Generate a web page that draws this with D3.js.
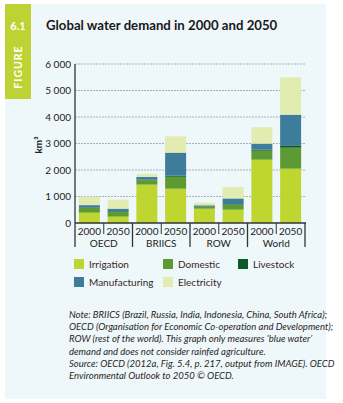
<!DOCTYPE html>
<html>
<head>
<meta charset="utf-8">
<script src="https://cdn.jsdelivr.net/npm/d3@7"></script>
<style>
  body { margin: 0; background: #fff; }
  svg { display: block; font-family: Lato, "Open Sans", sans-serif; }
</style>
</head>
<body>
<svg id="chart"></svg>
<script>
let width = 343,
  height = 403;

// Data
const regions = ["OECD", "BRIICS", "ROW", "World"];
const years = ["2000", "2050"];
const sectors = ["Irrigation", "Domestic", "Livestock", "Manufacturing", "Electricity"];
const sectorColors = ["#bfd630", "#5e9a33", "#0b5a2a", "#3d7d9b", "#e2ebb0"];

// values in km3, order: OECD 2000, OECD 2050, BRIICS 2000, BRIICS 2050, ROW 2000, ROW 2050, World 2000, World 2050
const irrigation = [390, 240, 1450, 1295, 540, 503, 2390, 2050];
const domestic = [176, 176, 165, 450, 63, 190, 340, 792];
const livestock = [20, 25, 20, 40, 15, 20, 38, 88];
const manufacturing = [88, 100, 100, 870, 50, 214, 226, 1157];
const electricity = [320, 340, 115, 615, 100, 428, 616, 1410];
const yTicks = [0, 1000, 2000, 3000, 4000, 5000, 6000];

const series = [irrigation, domestic, livestock, manufacturing, electricity];

let rows = [];
regions.forEach((r, i) => {
  years.forEach((y, j) => {
    let k = i * 2 + j;
    let row = { key: r + " " + y, region: r, year: y };
    sectors.forEach((s, si) => (row[s] = series[si][k]));
    rows.push(row);
  });
});

let svg = d3.select("#chart").attr("width", width).attr("height", height);

// Panel background
svg.append("rect")
  .attr("x", 5).attr("y", 4)
  .attr("width", 321).attr("height", 395)
  .attr("fill", "#eef7f9");

// Figure tab
svg.append("rect")
  .attr("x", 5).attr("y", 4)
  .attr("width", 26).attr("height", 95)
  .attr("fill", "#bdd333");

svg.append("text")
  .attr("x", 18).attr("y", 30)
  .attr("text-anchor", "middle")
  .attr("fill", "#fff")
  .style("font-weight", "bold")
  .style("font-size", "11px")
  .text("6.1");

svg.append("text")
  .attr("transform", "translate(22,67) rotate(-90)")
  .attr("text-anchor", "middle")
  .attr("fill", "#fff")
  .style("font-weight", "bold")
  .style("font-size", "10.5px")
  .style("letter-spacing", "1px")
  .text("FIGURE");

// Title
svg.append("text")
  .attr("x", 46).attr("y", 30)
  .attr("fill", "#1a1a1a")
  .style("font-weight", "bold")
  .style("font-size", "13.2px")
  .text("Global water demand in 2000 and 2050");

// Scales
let x = d3.scaleBand()
  .domain(rows.map((d) => d.key))
  .range([75, 305])
  .paddingInner(0.27)
  .paddingOuter(0.135);

let y = d3.scaleLinear().domain([0, 6000]).range([223, 64]);

let color = d3.scaleOrdinal(sectors, sectorColors);

// Gridlines
svg.append("g")
  .selectAll("line")
  .data(yTicks.filter((t) => t > 0))
  .enter()
  .append("line")
  .attr("x1", 75).attr("x2", 305)
  .attr("y1", (d) => y(d)).attr("y2", (d) => y(d))
  .attr("stroke", "#aab0b3")
  .attr("stroke-width", 1)
  .attr("stroke-dasharray", "2,1");

// Stacked bars
let stack = d3.stack().keys(sectors)(rows);

svg.append("g")
  .selectAll("g")
  .data(stack)
  .enter()
  .append("g")
  .attr("fill", (d) => color(d.key))
  .selectAll("rect")
  .data((d) => d)
  .enter()
  .append("rect")
  .attr("x", (d) => x(d.data.key))
  .attr("width", x.bandwidth())
  .attr("y", (d) => y(d[1]))
  .attr("height", (d) => y(d[0]) - y(d[1]));

// Y axis
let fmt = (d) => d3.format(",")(d).replace(",", " ");
let yAxis = svg.append("g")
  .attr("transform", "translate(75,0)")
  .call(d3.axisLeft(y).tickValues(yTicks).tickSize(0).tickPadding(4).tickFormat(fmt));
yAxis.select(".domain").remove();
yAxis.selectAll("text")
  .style("font-family", "Lato, sans-serif")
  .style("font-size", "10px")
  .attr("fill", "#222");

svg.append("line")
  .attr("x1", 75).attr("x2", 75)
  .attr("y1", 64).attr("y2", 247)
  .attr("stroke", "#333").attr("stroke-width", 1.3);

svg.append("line")
  .attr("x1", 75).attr("x2", 306)
  .attr("y1", 223).attr("y2", 223)
  .attr("stroke", "#333").attr("stroke-width", 1.3);

svg.append("text")
  .attr("transform", "translate(42,145) rotate(-90)")
  .attr("text-anchor", "middle")
  .attr("fill", "#222")
  .style("font-weight", "bold")
  .style("font-size", "10px")
  .text("km³");

// X axis: years and region groups
let groupW = x.step() * 2;
let groupX = (r) => x(r + " 2000") - x.paddingOuter() * x.step();

svg.append("g")
  .selectAll("text")
  .data(rows)
  .enter()
  .append("text")
  .attr("x", (d) => x(d.key) + x.bandwidth() / 2)
  .attr("y", 235)
  .attr("text-anchor", "middle")
  .attr("fill", "#222")
  .style("font-size", "10px")
  .text((d) => d.year);

let groups = svg.append("g")
  .selectAll("g")
  .data(regions)
  .enter()
  .append("g");

groups.append("text")
  .attr("x", (d) => groupX(d) + groupW / 2)
  .attr("y", 246.5)
  .attr("text-anchor", "middle")
  .attr("fill", "#222")
  .style("font-size", "10px")
  .text((d) => d);

groups.append("line")
  .attr("x1", (d) => groupX(d) + groupW)
  .attr("x2", (d) => groupX(d) + groupW)
  .attr("y1", 223).attr("y2", 247)
  .attr("stroke", "#333").attr("stroke-width", 1.3);

groups.append("line")
  .attr("x1", (d) => groupX(d) + groupW / 2)
  .attr("x2", (d) => groupX(d) + groupW / 2)
  .attr("y1", 223).attr("y2", 234)
  .attr("stroke", "#333").attr("stroke-width", 1);

// Legend
let legendPos = [
  [74, 264], [163, 264], [238, 264],
  [74, 282], [163, 282]
];
let legend = svg.append("g")
  .selectAll("g")
  .data(sectors)
  .enter()
  .append("g")
  .attr("transform", (d, i) => "translate(" + legendPos[i][0] + "," + legendPos[i][1] + ")");

legend.append("rect")
  .attr("x", 0).attr("y", -5)
  .attr("width", 10).attr("height", 10)
  .attr("fill", (d) => color(d));

legend.append("text")
  .attr("x", 15).attr("y", 3.5)
  .attr("fill", "#3a2626")
  .style("font-size", "10px")
  .text((d) => d);

// Note
const noteLines = [
  "Note: BRIICS (Brazil, Russia, India, Indonesia, China, South Africa);",
  "OECD (Organisation for Economic Co-operation and Development);",
  "ROW (rest of the world). This graph only measures \u2018blue water\u2019",
  "demand and does not consider rainfed agriculture.",
  "Source: OECD (2012a, Fig. 5.4, p. 217, output from IMAGE). OECD",
  "Environmental Outlook to 2050 \u00a9 OECD."
];

svg.append("g")
  .selectAll("text")
  .data(noteLines)
  .enter()
  .append("text")
  .attr("x", 69)
  .attr("y", (d, i) => 318 + i * 12.2)
  .attr("fill", "#2a1f1f")
  .style("font-style", "italic")
  .style("font-size", "9.5px")
  .text((d) => d);
</script>
</body>
</html>
